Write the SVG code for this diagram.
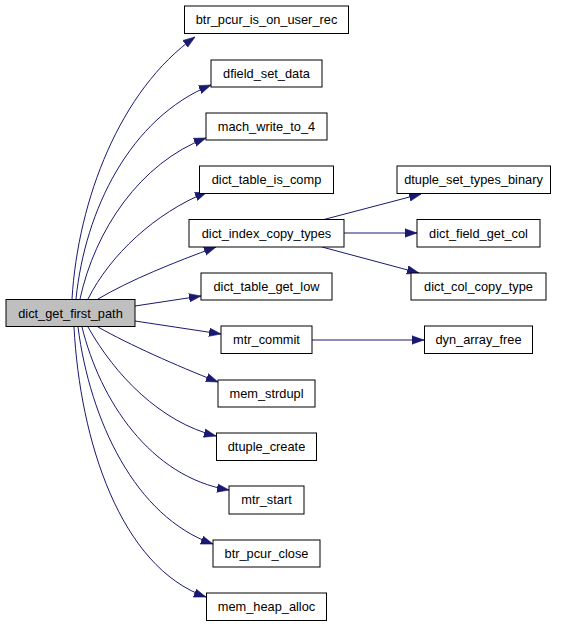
<svg xmlns="http://www.w3.org/2000/svg" width="565" height="627" viewBox="0 0 565 627">
<style>
.n rect{fill:#ffffff;stroke:#000000;stroke-width:1}
.n.root rect{fill:#bfbfbf}
.n text{font-family:"Liberation Sans",Arial,sans-serif;font-size:12.8px;fill:#000000;text-anchor:middle}
.e path{fill:none;stroke:#191970;stroke-width:1;marker-end:url(#ah)}
</style>
<defs>
<marker id="ah" markerUnits="userSpaceOnUse" markerWidth="12" markerHeight="10" viewBox="0 0 10 7" refX="10" refY="3.5" orient="auto">
<polygon points="0,0 10,3.5 0,7" fill="#191970" stroke="#191970" stroke-width="0.5"/>
</marker>
</defs>
<rect width="565" height="627" fill="#ffffff"/>
<g id="connectors" class="e">
<path d="M72,299 C78,200 120,90 195,37"/>
<path d="M76,299 C85,210 130,118 211,85"/>
<path d="M80,299 C95,230 140,163 206,138"/>
<path d="M88,299 C110,255 155,213 207,192"/>
<path d="M98,299 C130,280 175,262 216,247"/>
<path d="M135,306 L201,296"/>
<path d="M135,321 L221,334"/>
<path d="M98,327 C130,345 175,365 218,382"/>
<path d="M88,327 C115,375 160,422 216,436"/>
<path d="M82,327 C100,400 150,477 229,490"/>
<path d="M78,327 C90,420 135,517 213,544"/>
<path d="M74,327 C80,440 120,567 206,597"/>
<path d="M322,220 L421,194"/>
<path d="M344,233 L417,233"/>
<path d="M322,247 L419,273"/>
<path d="M312,340 L424,340"/>
</g>
<g id="dict_get_first_path" class="n root"><rect x="6" y="299.5" width="129" height="27"/><text x="70.5" y="317.5">dict_get_first_path</text></g>
<g id="btr_pcur_is_on_user_rec" class="n"><rect x="184.5" y="6" width="164" height="27.5"/><text x="266.5" y="24">btr_pcur_is_on_user_rec</text></g>
<g id="dfield_set_data" class="n"><rect x="211" y="60" width="111" height="27"/><text x="266.5" y="78">dfield_set_data</text></g>
<g id="mach_write_to_4" class="n"><rect x="206" y="113" width="121" height="27"/><text x="266.5" y="131">mach_write_to_4</text></g>
<g id="dict_table_is_comp" class="n"><rect x="199.5" y="166" width="134" height="27.5"/><text x="266.5" y="184">dict_table_is_comp</text></g>
<g id="dict_index_copy_types" class="n"><rect x="189" y="219.5" width="155" height="27.5"/><text x="266.5" y="237.5">dict_index_copy_types</text></g>
<g id="dict_table_get_low" class="n"><rect x="201" y="273" width="131" height="27"/><text x="266.5" y="291">dict_table_get_low</text></g>
<g id="mtr_commit" class="n"><rect x="221" y="326" width="91" height="27.5"/><text x="266.5" y="344">mtr_commit</text></g>
<g id="mem_strdupl" class="n"><rect x="218" y="380" width="97" height="27"/><text x="266.5" y="398">mem_strdupl</text></g>
<g id="dtuple_create" class="n"><rect x="216.5" y="433" width="100" height="27.5"/><text x="266.5" y="451">dtuple_create</text></g>
<g id="mtr_start" class="n"><rect x="229" y="486" width="75" height="28"/><text x="266.5" y="504">mtr_start</text></g>
<g id="btr_pcur_close" class="n"><rect x="213" y="540" width="107" height="27"/><text x="266.5" y="558">btr_pcur_close</text></g>
<g id="mem_heap_alloc" class="n"><rect x="206.5" y="593" width="120" height="27.5"/><text x="266.5" y="611">mem_heap_alloc</text></g>
<g id="dtuple_set_types_binary" class="n"><rect x="397" y="166" width="153.5" height="27.5"/><text x="473.5" y="184">dtuple_set_types_binary</text></g>
<g id="dict_field_get_col" class="n"><rect x="417" y="219.5" width="123" height="27.5"/><text x="478.5" y="237.5">dict_field_get_col</text></g>
<g id="dict_col_copy_type" class="n"><rect x="411" y="273" width="135" height="27"/><text x="478.5" y="291">dict_col_copy_type</text></g>
<g id="dyn_array_free" class="n"><rect x="424.5" y="326" width="108" height="27.5"/><text x="478.5" y="344">dyn_array_free</text></g>
</svg>
